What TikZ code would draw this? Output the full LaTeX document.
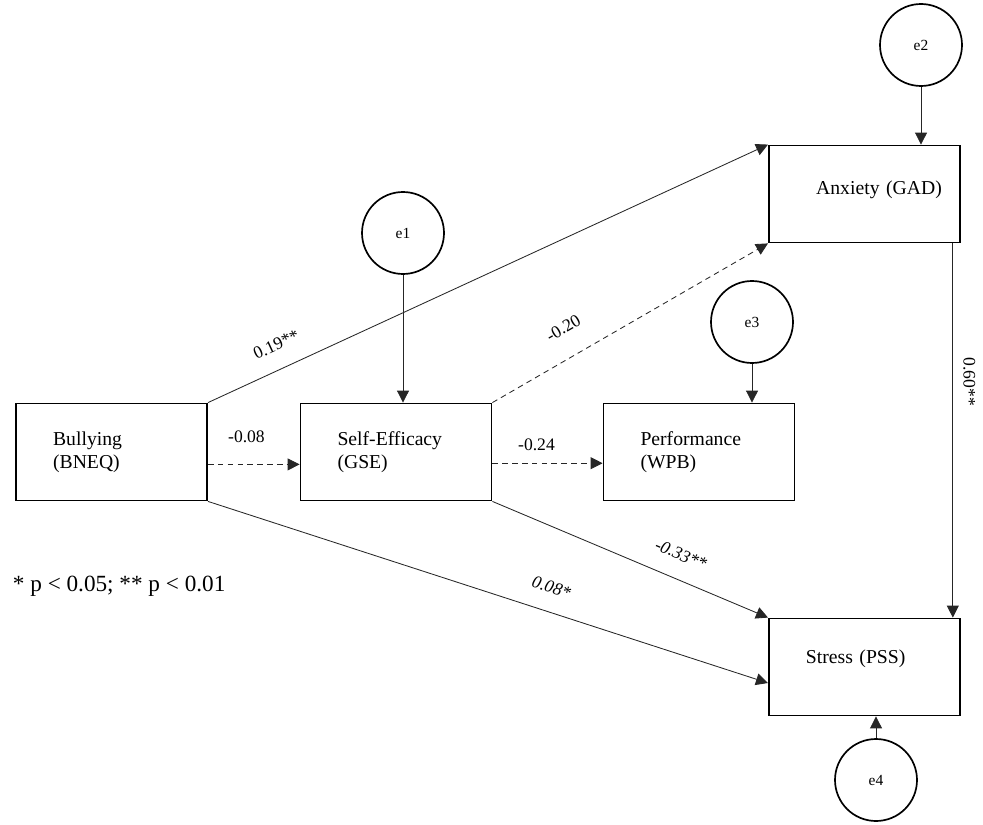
\documentclass[tikz,border=0pt]{standalone}
\usepackage{fontspec}
\setmainfont{Liberation Serif}
\usepackage{tikz}
\usetikzlibrary{arrows.meta}

\tikzset{
    var/.style={draw, line width=1.3pt, minimum width=4.775cm, minimum height=2.425cm,
        text width=2.925cm, align=left, inner sep=0pt, font=\fontsize{14}{16.5}\selectfont},
    err/.style={draw, circle, line width=1.2pt, minimum size=2.05cm, inner sep=0pt,
        font=\fontsize{11}{13}\selectfont},
    link/.style={draw=black!85, line width=0.6pt, -{Triangle[length=0.3cm, width=0.3cm]}},
    nsig/.style={link, dash pattern=on 4pt off 3pt},
    coef/.style={font=\fontsize{12.5}{14}\selectfont},
    coefi/.style={font=\fontsize{12.5}{14}\selectfont\itshape},
}

\begin{document}
\begin{tikzpicture}
    \useasboundingbox (0,0) rectangle (24.575,20.6);

    % observed variables
    \node[var] (bully) at (2.79, 9.3) {Bullying\\(BNEQ)};
    \node[var] (gse) at (9.9, 9.3) {Self-Efficacy\\(GSE)};
    \node[var] (wpb) at (17.475, 9.3) {Performance\\(WPB)};
    \node[var, text width=3.875cm, align=right, text depth=0.3cm] (gad) at (21.61, 15.75) {Anxiety (GAD)};
    \node[var, text depth=0.5cm] (pss) at (21.61, 3.925) {Stress (PSS)};

    % error terms
    \node[err] (e1) at (10.075, 14.775) {e1};
    \node[err] (e2) at (23.025, 19.475) {e2};
    \node[err] (e3) at (18.8, 12.55) {e3};
    \node[err] (e4) at (21.9, 1.1) {e4};

    \draw[link] (e1) -- (e1 |- gse.north);
    \draw[link] (e2) -- (e2 |- gad.north);
    \draw[link] (e3) -- (e3 |- wpb.north);
    \draw[link] (e4) -- (e4 |- pss.south);

    % paths
    \draw[link] (bully.north east) -- node[coef, pos=0.14, sloped, above=0.33cm] {0.19**} (gad.north west);
    \draw[nsig] ([yshift=-0.31cm]bully.east) -- node[coef, pos=0.42, above=0.42cm] {-0.08} ([yshift=-0.31cm]gse.west);
    \draw[nsig] (gse.north east) -- node[coef, pos=0.31, sloped, above=0.45cm] {-0.20} (gad.south west);
    \draw[nsig] ([yshift=-0.28cm]gse.east) -- node[coef, pos=0.4, above=0.18cm] {-0.24} ([yshift=-0.28cm]wpb.west);
    \draw[link] (gse.south east) -- node[coefi, pos=0.65, sloped, above=0.33cm] {-0.33**} (pss.north west);
    \draw[link] (bully.south east) -- node[coefi, pos=0.6, sloped, above=0.33cm] {0.08*} ([yshift=-0.4cm]pss.west);
    \draw[link] ([xshift=-0.2cm]gad.south east) -- node[coef, pos=0.37, anchor=south, rotate=-90, inner sep=0.25cm] {0.60**} ([xshift=-0.2cm]pss.north east);

    \node[anchor=west, font=\fontsize{16.5}{19}\selectfont] (note) at (0.2, 5.95) {* p < 0.05; ** p < 0.01};
\end{tikzpicture}
\end{document}
